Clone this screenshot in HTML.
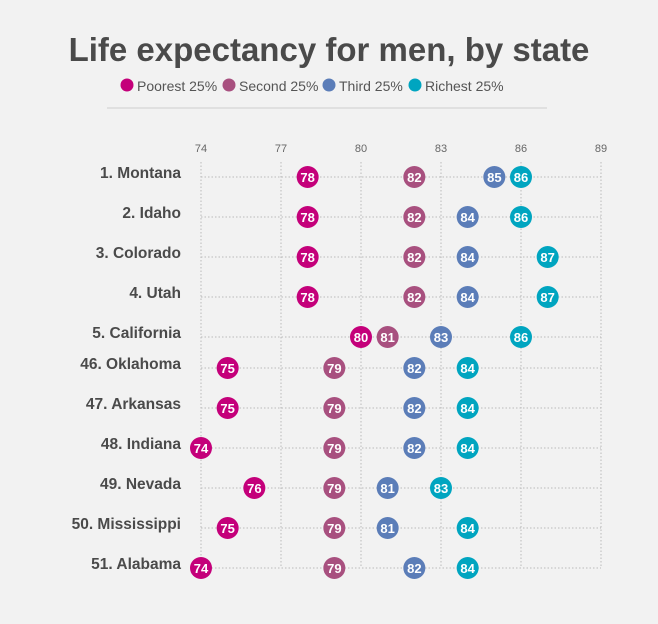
<!DOCTYPE html>
<html><head><meta charset="utf-8"><style>
body{margin:0;width:658px;height:624px;background:#f2f2f2;font-family:"Liberation Sans",sans-serif;overflow:hidden}
svg{display:block}
</style></head><body>
<svg width="658" height="624" id="chart">
<rect width="658" height="624" fill="#f2f2f2"/>
<text x="329" y="61" text-anchor="middle" font-size="33" font-weight="bold" fill="#4a4a4a">Life expectancy for men, by state</text>
<g id="legend"></g>
<line x1="107" y1="108" x2="547" y2="108" stroke="#cfcfcf"/>
<g id="grid"></g>
<g id="marks"></g>
</svg>
<script>
const states=["1. Montana","2. Idaho","3. Colorado","4. Utah","5. California","46. Oklahoma","47. Arkansas","48. Indiana","49. Nevada","50. Mississippi","51. Alabama"];
const poorest=[78,78,78,78,80,75,75,74,76,75,74];
const second=[82,82,82,82,81,79,79,79,79,79,79];
const third=[85,84,84,84,83,82,82,82,81,81,82];
const richest=[86,86,87,87,86,84,84,84,83,84,84];
const ticks=[74,77,80,83,86,89];
const seriesNames=["Poorest 25%","Second 25%","Third 25%","Richest 25%"];
const colors=["#c4007a","#a8507f","#5b7db8","#00a5c0"];
const NS="http://www.w3.org/2000/svg";
function mk(t,a,p){const e=document.createElementNS(NS,t);for(const k in a)e.setAttribute(k,a[k]);p.appendChild(e);return e;}
const x=v=>201+(v-74)*(400/15);
const rowY=[177,217,257,297,337,368,408,448,488,528,568];
const y=i=>rowY[i];
const grid=document.getElementById('grid'),marks=document.getElementById('marks'),legend=document.getElementById('legend');
const lx=[127,229,329,415];
seriesNames.forEach((n,i)=>{
 const c=mk('circle',{cx:lx[i],cy:85,r:6.5,fill:colors[i]},legend);
 
 
 const t=mk('text',{x:lx[i]+10,y:91,'font-size':14,fill:'#555'},legend);t.textContent=n;
 
 
});
ticks.forEach(v=>{
 const l=mk('line',{x1:x(v),y1:162,x2:x(v),y2:568,stroke:'#bbb','stroke-dasharray':'1.5,2'},grid);
 
 
 const t=mk('text',{x:x(v),y:152,'text-anchor':'middle','font-size':11,fill:'#666'},grid);t.textContent=v;
 
 
});
states.forEach((s,i)=>{
 const l=mk('line',{x1:201,y1:y(i),x2:601,y2:y(i),stroke:'#bbb','stroke-dasharray':'1.5,2'},grid);
 
 
 const t=mk('text',{x:181,y:y(i)+1,'text-anchor':'end','font-size':15.5,'font-weight':'bold',fill:'#4a4a4a'},grid);t.textContent=s;
 
 
 [poorest,second,third,richest].forEach((arr,k)=>{
  const g=mk('g',{},marks);
  
  
  mk('circle',{cx:x(arr[i]),cy:y(i),r:11,fill:colors[k]},g);
  const tt=mk('text',{x:x(arr[i]),y:y(i)+5,'text-anchor':'middle','font-size':13,'font-weight':'bold',fill:'#fff'},g);tt.textContent=arr[i];
 });
});
</script>
</body></html>
